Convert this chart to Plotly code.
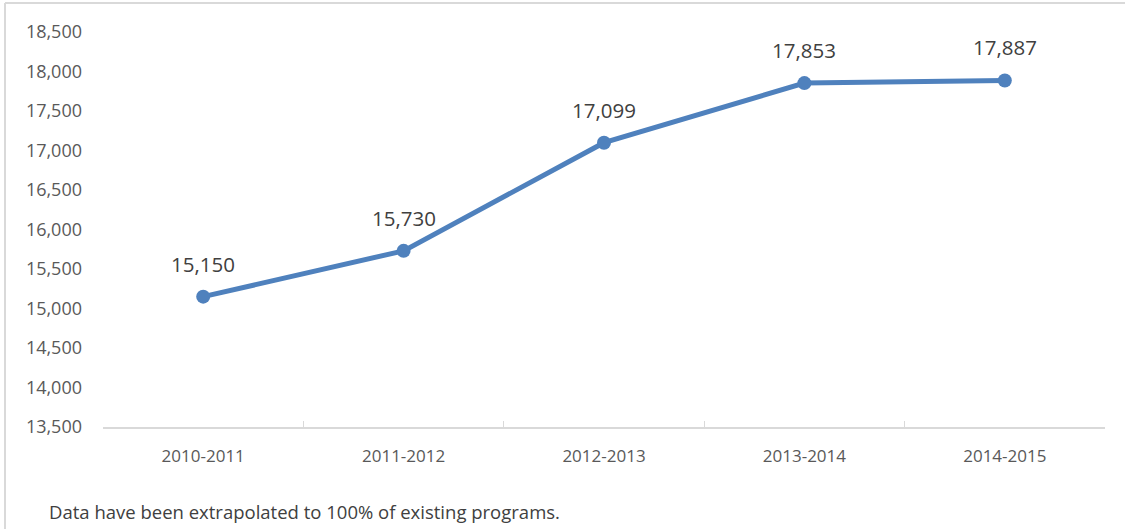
import plotly.graph_objects as go

# Program years and enrollment counts
years = ["2010-2011", "2011-2012", "2012-2013", "2013-2014", "2014-2015"]
enrollment = [15150, 15730, 17099, 17853, 17887]

y_ticks = list(range(13500, 18501, 500))
note = "Data have been extrapolated to 100% of existing programs."

W, H = 1125, 529
ML, MR, MT, MB = 103, 20, 32, 102
PW, PH = W - ML - MR, H - MT - MB

FONT = "Open Sans, Liberation Sans, sans-serif"

fig = go.Figure()
fig.add_trace(go.Scatter(
    x=years,
    y=enrollment,
    mode="lines+markers",
    line=dict(color="#4f81bd", width=5),
    marker=dict(color="#4f81bd", size=14),
    cliponaxis=False,
    hoverinfo="skip",
))

# Value labels above each point
for yr, v in zip(years, enrollment):
    fig.add_annotation(
        x=yr, y=v, text=f"{v:,}", showarrow=False,
        yshift=33, yanchor="middle",
        font=dict(family=FONT, size=20.5, color="#404040"),
    )

fig.update_layout(
    width=W, height=H,
    margin=dict(l=ML, r=MR, t=MT, b=MB),
    paper_bgcolor="white",
    plot_bgcolor="white",
    showlegend=False,
    font=dict(family=FONT, color="#595959", size=17),
    xaxis=dict(
        type="category",
        range=[-0.5, 4.5],
        showgrid=False,
        showline=True,
        linecolor="#d9d9d9",
        linewidth=1.5,
        ticks="inside",
        tickson="boundaries",
        ticklen=6,
        tickcolor="#d9d9d9",
        ticklabelstandoff=13,
        tickfont=dict(size=17, color="#595959"),
        zeroline=False,
    ),
    yaxis=dict(
        range=[13500, 18500],
        tickvals=y_ticks,
        ticktext=[f"{v:,}" for v in y_ticks],
        showgrid=False,
        showline=False,
        zeroline=False,
        ticks="",
        ticklabelstandoff=20,
        tickfont=dict(size=18, color="#595959"),
    ),
)

# Chart frame (left and top edges)
def px_x(px):
    return (px - ML) / PW

def px_y(py):
    return (H - MB - py) / PH

frame = dict(color="#d9d9d9", width=2)
fig.add_shape(type="line", xref="paper", yref="paper",
              x0=px_x(5), x1=px_x(5), y0=px_y(3), y1=px_y(H + 5), line=frame)
fig.add_shape(type="line", xref="paper", yref="paper",
              x0=px_x(5), x1=px_x(W + 5), y0=px_y(3), y1=px_y(3), line=frame)

fig.add_annotation(
    xref="paper", yref="paper",
    x=px_x(47), y=px_y(511),
    xanchor="left", yanchor="middle",
    text=note, showarrow=False,
    font=dict(family=FONT, size=18.5, color="#404040"),
)

fig.write_html("out.html")
